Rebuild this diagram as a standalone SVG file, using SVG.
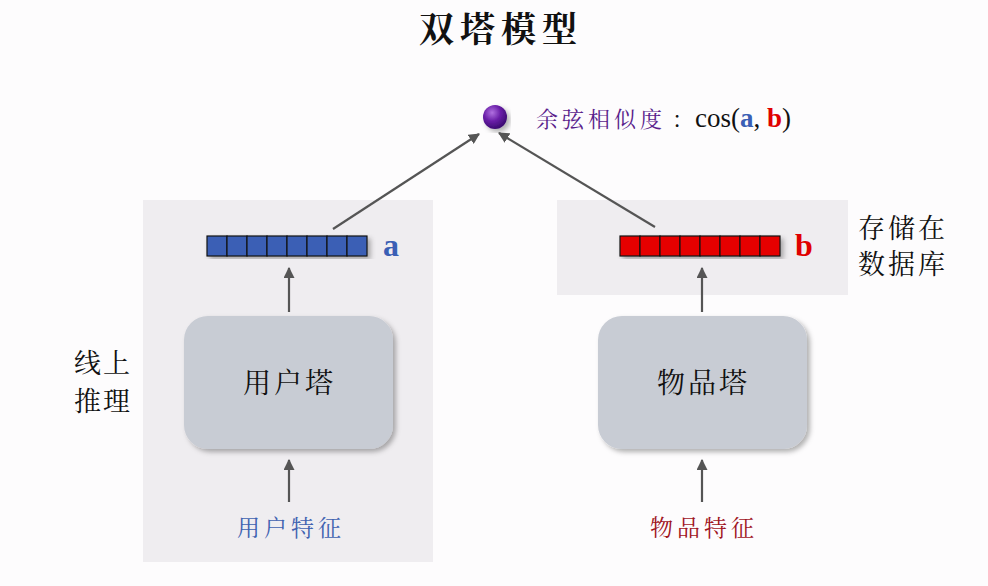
<svg xmlns="http://www.w3.org/2000/svg" width="988" height="586" viewBox="0 0 988 586">
<defs>
<style>
.serifcjk{font-family:"Noto Serif CJK SC","Noto Sans CJK SC",serif}
.latin{font-family:"Liberation Serif",serif}
.panel{fill:#efedf0}
.tower{fill:#c8ccd4}
.cellA{fill:#3a5fb5;stroke:#111;stroke-width:1.2}
.cellB{fill:#e60000;stroke:#111;stroke-width:1.2}
.line{stroke:#555;stroke-width:2.2;fill:none}
</style>
<marker id="ah" viewBox="0 0 10 10" refX="9" refY="5" markerWidth="5" markerHeight="5" orient="auto-start-reverse">
<path d="M0,0 L10,5 L0,10 z" fill="#555"/>
</marker>
<radialGradient id="ball" cx="0.38" cy="0.32" r="0.7">
<stop offset="0" stop-color="#b070e0"/>
<stop offset="0.5" stop-color="#6a1fa8"/>
<stop offset="1" stop-color="#3a0a70"/>
</radialGradient>
<filter id="sh" x="-10%" y="-10%" width="125%" height="125%">
<feDropShadow dx="3" dy="3" stdDeviation="2.5" flood-color="#000" flood-opacity="0.3"/>
</filter>
</defs>
<rect width="988" height="586" fill="#fdfcfd"/>
<text x="419" y="42" class="serifcjk" font-size="35" font-weight="bold" fill="#111" letter-spacing="6">双塔模型</text>

<g id="panel-left"><rect class="panel" x="143" y="200" width="290" height="362"/></g>
<g id="panel-right"><rect class="panel" x="557" y="200" width="291" height="95"/></g>

<g id="connectors">
<line class="line" x1="289" y1="502" x2="289" y2="460" marker-end="url(#ah)"/>
<line class="line" x1="702" y1="502" x2="702" y2="460" marker-end="url(#ah)"/>
<line class="line" x1="289" y1="312" x2="289" y2="268" marker-end="url(#ah)"/>
<line class="line" x1="702" y1="312" x2="702" y2="268" marker-end="url(#ah)"/>
<line class="line" x1="333" y1="229" x2="479" y2="134" marker-end="url(#ah)"/>
<line class="line" x1="655" y1="227" x2="499" y2="133" marker-end="url(#ah)"/>
</g>

<g id="similarity">
<circle cx="495" cy="117" r="12" fill="url(#ball)" filter="url(#sh)"/>
<text x="536" y="127" class="serifcjk" font-size="22" fill="#5a1e8c" letter-spacing="4">余弦相似度</text>
<text x="672" y="127" class="serifcjk" font-size="22" fill="#111">：</text>
<text x="695" y="127" font-size="27" class="latin"><tspan fill="#111">cos(</tspan><tspan font-weight="bold" fill="#3a5fb5">a</tspan><tspan fill="#111">, </tspan><tspan font-weight="bold" fill="#e00000">b</tspan><tspan fill="#111">)</tspan></text>
</g>

<g id="vector-a" filter="url(#sh)">
<rect class="cellA" x="207" y="236" width="20" height="20"/>
<rect class="cellA" x="227" y="236" width="20" height="20"/>
<rect class="cellA" x="247" y="236" width="20" height="20"/>
<rect class="cellA" x="267" y="236" width="20" height="20"/>
<rect class="cellA" x="287" y="236" width="20" height="20"/>
<rect class="cellA" x="307" y="236" width="20" height="20"/>
<rect class="cellA" x="327" y="236" width="20" height="20"/>
<rect class="cellA" x="347" y="236" width="20" height="20"/>
</g>
<text x="383" y="256" class="latin" font-weight="bold" font-size="32" fill="#3a5fb5">a</text>

<g id="vector-b" filter="url(#sh)">
<rect class="cellB" x="620" y="236" width="20" height="20"/>
<rect class="cellB" x="640" y="236" width="20" height="20"/>
<rect class="cellB" x="660" y="236" width="20" height="20"/>
<rect class="cellB" x="680" y="236" width="20" height="20"/>
<rect class="cellB" x="700" y="236" width="20" height="20"/>
<rect class="cellB" x="720" y="236" width="20" height="20"/>
<rect class="cellB" x="740" y="236" width="20" height="20"/>
<rect class="cellB" x="760" y="236" width="20" height="20"/>
</g>
<text x="795" y="256" class="latin" font-weight="bold" font-size="32" fill="#e00000">b</text>

<g id="user-tower">
<rect class="tower" x="184" y="316" width="209" height="133" rx="24" filter="url(#sh)"/>
<text x="243" y="393" class="serifcjk" font-size="28" fill="#111" letter-spacing="3">用户塔</text>
</g>
<g id="item-tower">
<rect class="tower" x="598" y="316" width="209" height="133" rx="24" filter="url(#sh)"/>
<text x="657" y="393" class="serifcjk" font-size="28" fill="#111" letter-spacing="3">物品塔</text>
</g>

<g id="user-feature"><text x="237" y="536" class="serifcjk" font-size="23" fill="#3f62b0" letter-spacing="4">用户特征</text></g>
<g id="item-feature"><text x="650" y="536" class="serifcjk" font-size="23" fill="#a0141e" letter-spacing="4">物品特征</text></g>

<g id="online-label">
<text x="74" y="373" class="serifcjk" font-size="27" fill="#111" letter-spacing="2">线上</text>
<text x="74" y="411" class="serifcjk" font-size="27" fill="#111" letter-spacing="2">推理</text>
</g>
<g id="store-label">
<text x="858" y="238" class="serifcjk" font-size="27" fill="#111" letter-spacing="3">存储在</text>
<text x="858" y="274" class="serifcjk" font-size="27" fill="#111" letter-spacing="3">数据库</text>
</g>
</svg>
